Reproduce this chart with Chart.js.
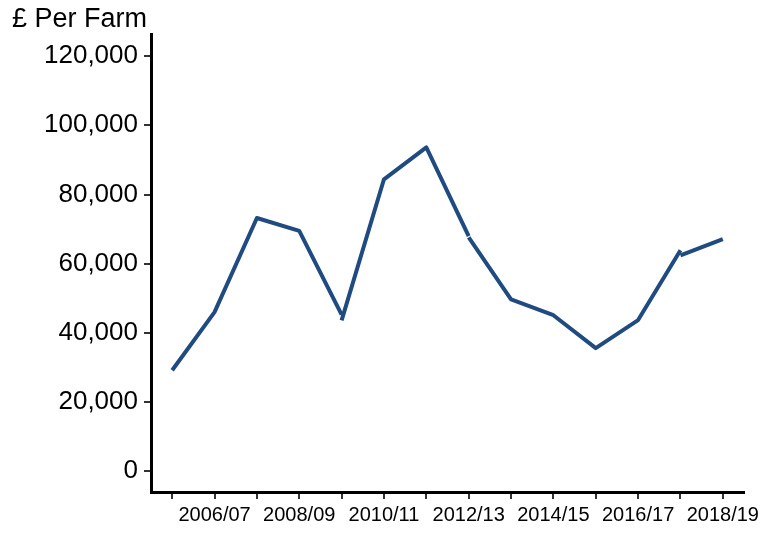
<!DOCTYPE html>
<html>
<head>
<meta charset="utf-8">
<script src="https://cdn.jsdelivr.net/npm/chart.js@4.4.0/dist/chart.umd.min.js"></script>
<style>
  html, body { margin: 0; padding: 0; background: #fff; }
  #wrap { width: 770px; height: 537px; }
</style>
</head>
<body>
<div id="wrap"><canvas id="farmChart" width="770" height="537"></canvas></div>
<script>
// years and the four series (breaks in the series where methodology changes)
const years = ['2005/06', '2006/07', '2007/08', '2008/09', '2009/10', '2010/11', '2011/12',
  '2012/13', '2013/14', '2014/15', '2015/16', '2016/17', '2017/18', '2018/19'];
const seriesA = [29200, 46000, 73200, 69500, 45300, null, null, null, null, null, null, null, null, null];
const seriesB = [null, null, null, null, 43600, 84400, 93600, 68000, null, null, null, null, null, null];
const seriesC = [null, null, null, null, null, null, null, 67600, 49700, 45100, 35600, 43700, 63900, null];
const seriesD = [null, null, null, null, null, null, null, null, null, null, null, null, 62400, 67100];
const yTicks = [0, 20000, 40000, 60000, 80000, 100000, 120000];

const lineColour = '#1f4b80';

function seg(data) {
  return {
    data: data,
    borderColor: lineColour,
    borderWidth: 4,
    pointRadius: 0,
    tension: 0,
    spanGaps: false,
    borderCapStyle: 'butt',
    borderJoinStyle: 'round'
  };
}

// "£ Per Farm" label top left
const unitLabel = {
  id: 'unitLabel',
  afterDraw(chart) {
    const c = chart.ctx;
    c.save();
    c.font = '27px "Liberation Sans", Arial, sans-serif';
    c.fillStyle = '#000';
    c.textBaseline = 'middle';
    c.textAlign = 'left';
    c.fillText('£ Per Farm', 12, 20);
    c.restore();
  }
};

new Chart(document.getElementById('farmChart'), {
  type: 'line',
  data: {
    labels: years,
    datasets: [seg(seriesA), seg(seriesB), seg(seriesC), seg(seriesD)]
  },
  options: {
    responsive: false,
    animation: false,
    layout: { padding: { top: 34, right: 26, bottom: 0, left: 0 } },
    plugins: {
      legend: { display: false },
      tooltip: { enabled: false }
    },
    scales: {
      x: {
        offset: true,
        border: { display: true, color: '#000', width: 3 },
        grid: { drawOnChartArea: false, drawTicks: true, tickLength: 7, color: '#333', lineWidth: 2 },
        ticks: {
          autoSkip: false,
          maxRotation: 0,
          padding: 4,
          color: '#000',
          font: { family: '"Liberation Sans", Arial, sans-serif', size: 20 },
          callback: (v, i) => (i % 2 === 1 ? years[i] : '')
        },
        afterFit(scale) { scale.height = 45; }
      },
      y: {
        min: -6000,
        max: 126400,
        border: { display: true, color: '#000', width: 3 },
        grid: { drawOnChartArea: false, drawTicks: true, tickLength: 7, color: '#333', lineWidth: 2 },
        afterBuildTicks(scale) { scale.ticks = yTicks.map(v => ({ value: v })); },
        ticks: {
          padding: 6,
          color: '#000',
          font: { family: '"Liberation Sans", Arial, sans-serif', size: 26 },
          callback: v => v.toLocaleString('en-GB')
        },
        afterFit(scale) { scale.width = 151; }
      }
    }
  },
  plugins: [unitLabel]
});
</script>
</body>
</html>
